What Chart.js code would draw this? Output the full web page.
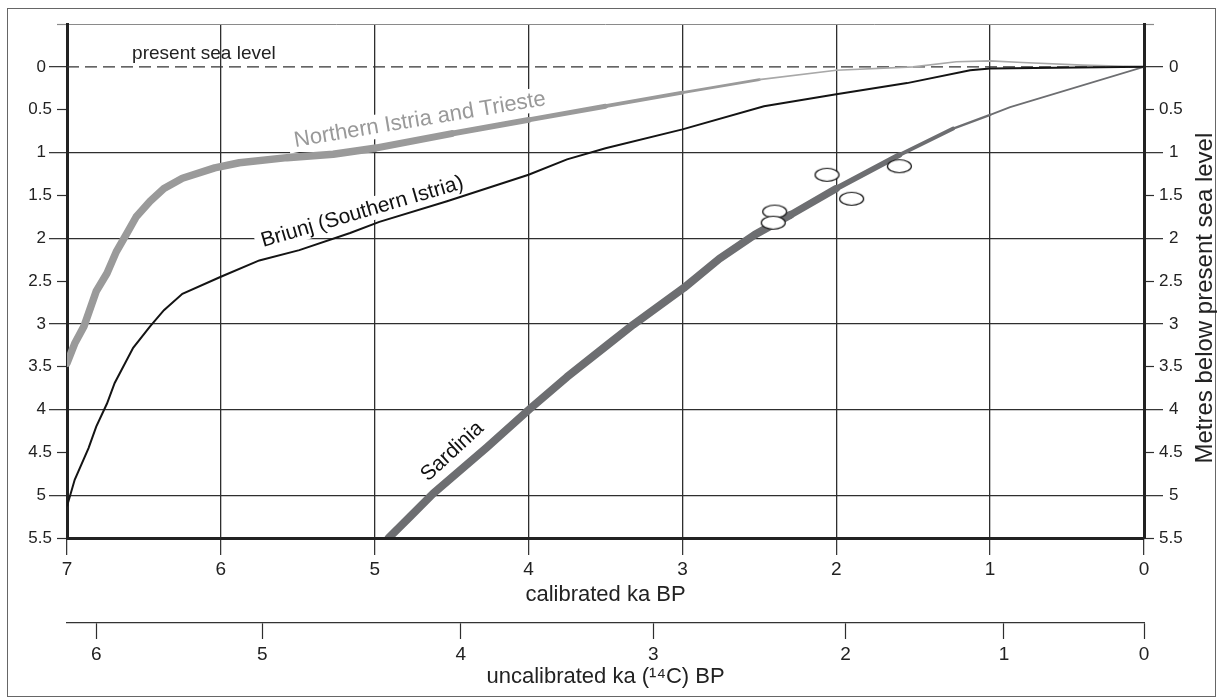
<!DOCTYPE html>
<html>
<head>
<meta charset="utf-8">
<title>Relative sea level curves</title>
<script src="https://cdn.jsdelivr.net/npm/chart.js@4.4.1/dist/chart.umd.min.js"></script>
<style>
	html, body { margin: 0; padding: 0; background: #fff; }
	#wrap { position: relative; width: 1222px; height: 698px; }
	#frame { position: absolute; left: 7px; top: 8px; width: 1209px; height: 689px; border: 1px solid #666; box-sizing: border-box; }
	#seaLevelChart { position: absolute; left: 0; top: 0; }
</style>
</head>
<body>
<div id="wrap">
	<div id="frame"></div>
	<canvas id="seaLevelChart" width="1222" height="698"></canvas>
</div>
<script>
// x = calibrated ka BP, y = metres below present sea level
const northIstriaAge   = [7.0, 6.95, 6.89, 6.81, 6.74, 6.68, 6.61, 6.55, 6.46, 6.37, 6.25, 6.04, 5.88, 5.57, 5.27, 5.0, 4.5, 4.0, 3.5, 3.0, 2.5, 2.0, 1.5, 1.22, 1.0, 0.79, 0.4, 0];
const northIstriaDepth = [3.46, 3.23, 3.03, 2.62, 2.41, 2.16, 1.94, 1.75, 1.57, 1.42, 1.30, 1.18, 1.12, 1.06, 1.02, 0.95, 0.78, 0.62, 0.46, 0.30, 0.15, 0.04, 0.0, -0.06, -0.07, -0.05, -0.02, 0];

const briunjAge   = [7.0, 6.95, 6.86, 6.81, 6.74, 6.69, 6.57, 6.46, 6.37, 6.25, 6.0, 5.75, 5.49, 5.16, 4.97, 4.53, 4.0, 3.75, 3.5, 3.0, 2.47, 2.0, 1.54, 1.13, 1.0, 0];
const briunjDepth = [5.13, 4.82, 4.45, 4.2, 3.93, 3.69, 3.28, 3.03, 2.84, 2.65, 2.45, 2.26, 2.14, 1.94, 1.81, 1.57, 1.26, 1.08, 0.95, 0.73, 0.46, 0.32, 0.19, 0.04, 0.02, 0];

const sardiniaAge   = [4.91, 4.77, 4.62, 4.27, 3.99, 3.75, 3.49, 3.32, 2.99, 2.76, 2.53, 2.30, 2.0, 1.59, 1.24, 1.0, 0.87, 0];
const sardiniaDepth = [5.5, 5.25, 4.98, 4.44, 3.99, 3.62, 3.25, 3.01, 2.58, 2.24, 1.96, 1.73, 1.42, 1.03, 0.72, 0.56, 0.47, 0];

// dated samples (open ellipses)
const sampleAge   = [2.06, 2.40, 2.41, 1.90, 1.59];
const sampleDepth = [1.26, 1.69, 1.82, 1.54, 1.16];

const seaLevelAge   = [7, 0];
const seaLevelDepth = [0, 0];

const depthMajorTicks = [0, 1, 2, 3, 4, 5];
const depthMinorTicks = [-0.5, 0.5, 1.5, 2.5, 3.5, 4.5, 5.5];

// uncalibrated ka (14C) BP labels and where they fall on the calibrated scale
const uncalLabels = ['6', '5', '4', '3', '2', '1', '0'];
const uncalAtCal  = [6.81, 5.73, 4.44, 3.19, 1.94, 0.91, 0];

(function() {
	'use strict';

	const FONT = '"Liberation Sans", Arial, Helvetica, sans-serif';
	Chart.defaults.font.family = FONT;
	Chart.defaults.color = '#222';

	const toPoints = (xs, ys) => xs.map((x, i) => ({ x: x, y: ys[i] }));
	const GRID = '#2e2e2e';
	const NONE = 'rgba(0,0,0,0)';

	// line thickness tapers towards the present
	function istriaWidth(t) {
		if (t >= 5) return 7.5;
		if (t <= 2.2) return 1.6;
		return 1.6 + (t - 2.2) / 2.8 * 5.9;
	}
	function sardiniaWidth(t) {
		if (t >= 2.3) return 8;
		if (t <= 1.0) return 1.8;
		if (t >= 1.25) return 3 + (t - 1.25) / 1.05 * 5;
		return 1.8 + (t - 1.0) / 0.25 * 1.2;
	}

	// open ellipse marker
	const ellipse = document.createElement('canvas');
	ellipse.width = 27;
	ellipse.height = 16;
	const ec = ellipse.getContext('2d');
	ec.beginPath();
	ec.ellipse(13.5, 8, 12, 6.5, 0, 0, Math.PI * 2);
	ec.fillStyle = '#fff';
	ec.fill();
	ec.lineWidth = 1.2;
	ec.strokeStyle = '#111';
	ec.stroke();

	const curveLabels = [
		{ text: 'present sea level', age: 6.11, depth: -0.15, angle: 0, size: 19, color: '#222', baseline: 'middle', knockout: false },
		{ text: 'Northern Istria and Trieste', age: 4.70, depth: 0.69, angle: -9.5, size: 22, color: '#999', baseline: 'alphabetic', knockout: true },
		{ text: 'Briunj (Southern Istria)', age: 5.07, depth: 1.76, angle: -16.3, size: 21, color: '#111', baseline: 'alphabetic', knockout: true },
		{ text: 'Sardinia', age: 4.47, depth: 4.54, angle: -42.7, size: 21, color: '#111', baseline: 'alphabetic', knockout: false }
	];

	// the half-metre axes share the box of the whole-metre axes
	const minorAxisPlugin = {
		id: 'minorAxes',
		afterLayout(chart) {
			[['yMinor', 'y'], ['yRightMinor', 'yRight']].forEach(function(pair) {
				const minor = chart.scales[pair[0]];
				const major = chart.scales[pair[1]];
				minor.left = major.left;
				minor.right = major.right;
				minor.width = major.width;
			});
		}
	};

	const labelPlugin = {
		id: 'curveLabels',
		beforeDatasetsDraw(chart) {
			const ctx = chart.ctx;
			const xs = chart.scales.x;
			const ys = chart.scales.y;
			curveLabels.forEach(function(l) {
				ctx.save();
				ctx.translate(xs.getPixelForValue(l.age), ys.getPixelForValue(l.depth));
				ctx.rotate(l.angle * Math.PI / 180);
				ctx.font = l.size + 'px ' + FONT;
				ctx.textAlign = 'center';
				ctx.textBaseline = l.baseline;
				if (l.knockout) {
					const w = ctx.measureText(l.text).width;
					ctx.fillStyle = '#fff';
					ctx.fillRect(-w / 2 - 6, -l.size * 0.85, w + 12, l.size * 1.1);
				}
				ctx.fillStyle = l.color;
				ctx.fillText(l.text, 0, 0);
				ctx.restore();
			});

			// right-hand axis title, reading bottom to top
			const yr = chart.scales.yRight;
			ctx.save();
			ctx.translate(yr.right - 17, ys.getPixelForValue(2.7));
			ctx.rotate(-Math.PI / 2);
			ctx.font = '24px ' + FONT;
			ctx.fillStyle = '#222';
			ctx.textAlign = 'center';
			ctx.textBaseline = 'middle';
			ctx.fillText('Metres below present sea level', 0, 0);
			ctx.restore();
		}
	};

	const depthAxis = function(position, weight, ticks, major) {
		return {
			type: 'linear',
			position: position,
			weight: weight,
			min: -0.5,
			max: 5.5,
			reverse: true,
			afterBuildTicks: function(scale) {
				scale.ticks = ticks.map(v => ({ value: v }));
			},
			afterFit: function(scale) {
				scale.width = major ? (position === 'left' ? 67 : 78) : 0;
			},
			ticks: {
				autoSkip: false,
				font: { size: 17 },
				color: '#222',
				padding: major ? (position === 'left' ? 3 : 6) : 5,
				callback: v => (v < 0 ? '' : String(v))
			},
			grid: {
				drawOnChartArea: position === 'left',
				color: function(c) {
					if (!c.tick) return NONE;
					if (major) return c.tick.value === 0 ? NONE : GRID;
					return c.tick.value === -0.5 ? '#8a8a8a' : NONE;
				},
				lineWidth: major ? 1.3 : 1,
				tickLength: major ? (position === 'left' ? 18 : 19) : 10,
				tickColor: c => (c.tick && c.tick.value === -0.5 ? '#8a8a8a' : GRID),
				tickWidth: 1.2
			},
			border: major ? { display: true, width: 3, color: '#222' } : { display: false }
		};
	};

	const ctx = document.getElementById('seaLevelChart').getContext('2d');
	new Chart(ctx, {
		type: 'line',
		data: {
			datasets: [
				{
					label: 'Samples',
					data: toPoints(sampleAge, sampleDepth),
					showLine: false,
					pointStyle: ellipse,
					pointRadius: 8,
					order: 0
				},
				{
					label: 'Briunj (Southern Istria)',
					data: toPoints(briunjAge, briunjDepth),
					borderColor: '#141414',
					borderWidth: 2,
					pointRadius: 0,
					clip: 0,
					order: 1
				},
				{
					label: 'Sardinia',
					data: toPoints(sardiniaAge, sardiniaDepth),
					borderColor: '#6d6e71',
					borderWidth: 8,
					borderCapStyle: 'round',
					borderJoinStyle: 'round',
					pointRadius: 0,
					clip: 0,
					order: 2,
					segment: {
						borderWidth: c => sardiniaWidth((sardiniaAge[c.p0DataIndex] + sardiniaAge[c.p1DataIndex]) / 2)
					}
				},
				{
					label: 'Northern Istria and Trieste',
					data: toPoints(northIstriaAge, northIstriaDepth),
					borderColor: '#9a9a9a',
					borderWidth: 7,
					borderCapStyle: 'round',
					borderJoinStyle: 'round',
					pointRadius: 0,
					clip: 0,
					order: 3,
					segment: {
						borderWidth: c => istriaWidth((northIstriaAge[c.p0DataIndex] + northIstriaAge[c.p1DataIndex]) / 2),
						borderColor: c => (northIstriaAge[c.p1DataIndex] < 2.2 ? '#a8a8a8' : '#9a9a9a')
					}
				},
				{
					label: 'present sea level',
					data: toPoints(seaLevelAge, seaLevelDepth),
					borderColor: '#333',
					borderWidth: 1.3,
					borderDash: [12, 6],
					pointRadius: 0,
					clip: 0,
					order: 4
				}
			]
		},
		options: {
			responsive: false,
			animation: false,
			devicePixelRatio: 1,
			layout: { padding: { top: 24, left: 0, right: 0, bottom: 0 } },
			plugins: {
				legend: { display: false },
				tooltip: { enabled: false }
			},
			scales: {
				x: {
					type: 'linear',
					position: 'bottom',
					weight: 0,
					min: 0,
					max: 7,
					reverse: true,
					afterFit: function(scale) { scale.height = 85; },
					ticks: {
						stepSize: 1,
						autoSkip: false,
						maxRotation: 0,
						font: { size: 19 },
						color: '#222',
						padding: 3
					},
					grid: {
						color: GRID,
						lineWidth: 1.3,
						tickLength: 17,
						tickColor: GRID,
						tickWidth: 1.2
					},
					border: { display: true, width: 3, color: '#222', z: 1 },
					title: {
						display: true,
						text: 'calibrated ka BP',
						color: '#222',
						font: { size: 22 },
						padding: { top: 0, bottom: 15 }
					}
				},
				x2: {
					type: 'linear',
					position: 'bottom',
					weight: 1,
					min: 0,
					max: 7,
					reverse: true,
					afterBuildTicks: function(scale) {
						scale.ticks = uncalAtCal.map(v => ({ value: v }));
					},
					afterFit: function(scale) { scale.height = 75; },
					ticks: {
						autoSkip: false,
						maxRotation: 0,
						font: { size: 19 },
						color: '#222',
						padding: 4,
						callback: (v, i) => uncalLabels[i]
					},
					grid: {
						drawOnChartArea: false,
						tickLength: 16,
						tickColor: GRID,
						tickWidth: 1.2
					},
					border: { display: true, width: 1.3, color: '#333' },
					title: {
						display: true,
						text: 'uncalibrated ka (¹⁴C) BP',
						color: '#222',
						font: { size: 22 },
						padding: { top: 0, bottom: 8 }
					}
				},
				y: depthAxis('left', 1, depthMajorTicks, true),
				yMinor: depthAxis('left', 0, depthMinorTicks, false),
				yRight: depthAxis('right', 1, depthMajorTicks, true),
				yRightMinor: depthAxis('right', 0, depthMinorTicks, false)
			}
		},
		plugins: [minorAxisPlugin, labelPlugin]
	});
})();
</script>
</body>
</html>
